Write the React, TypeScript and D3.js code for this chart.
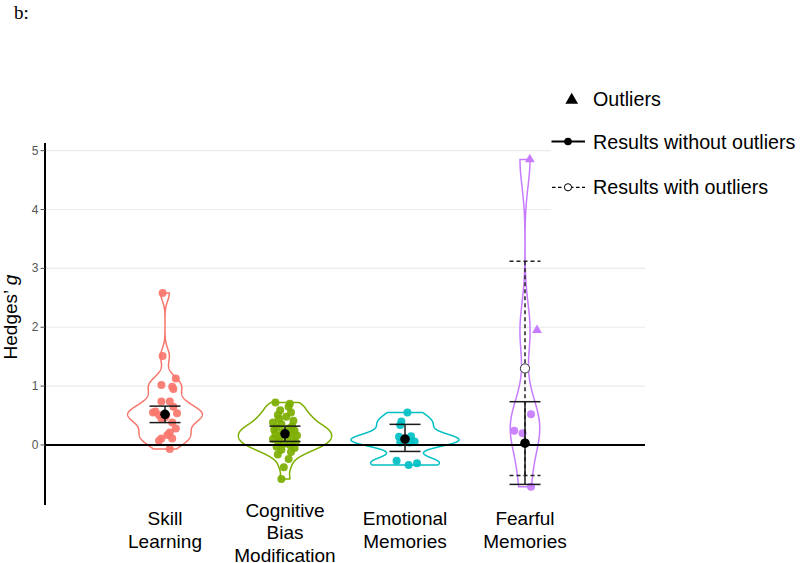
import React from "react";
import * as d3 from "d3";

const categories = ["Skill Learning", "Cognitive Bias Modification", "Emotional Memories", "Fearful Memories"];
const categoryLabelLines = [["Skill", "Learning"], ["Cognitive", "Bias", "Modification"], ["Emotional", "Memories"], ["Fearful", "Memories"]];
const groupColors = ["#F8766D", "#7CAE00", "#00BFC4", "#C77CFF"];

const skillValues = [2.58, 1.51, 1.13, 1.02, 0.99, 0.95, 0.74, 0.74, 0.65, 0.57, 0.55, 0.54, 0.51, 0.5, 0.47, 0.45, 0.38, 0.28, 0.21, 0.17, 0.11, 0.07, 0.11, -0.07];
const skillJitter = [-0.02, -0.02, 0.09, -0.03, 0.06, 0.07, -0.03, 0.04, 0.07, -0.08, -0.1, 0.1, -0.05, 0.01, 0.0, -0.03, 0.06, 0.09, 0.04, 0.02, -0.03, -0.05, 0.06, 0.04];

const cbmValues = [0.72, 0.7, 0.65, 0.59, 0.55, 0.51, 0.48, 0.44, 0.41, 0.38, 0.35, 0.32, 0.3, 0.28, 0.26, 0.24, 0.22, 0.2, 0.18, 0.16, 0.14, 0.12, 0.1, 0.08, 0.06, 0.04, 0.02, 0.0, -0.03, -0.05, -0.08, -0.12, -0.16, -0.24, -0.38, -0.58];
const cbmJitter = [-0.08, 0.04, 0.03, -0.04, 0.05, -0.06, 0.01, -0.05, 0.07, -0.1, -0.03, 0.06, -0.07, 0.03, -0.09, 0.08, -0.02, 0.05, -0.08, 0.1, -0.04, 0.02, -0.1, 0.07, -0.05, 0.09, -0.01, 0.04, -0.07, 0.08, -0.03, 0.05, -0.06, 0.03, -0.01, -0.03];

const emoValues = [0.55, 0.4, 0.34, 0.15, 0.14, 0.06, 0.04, 0.04, -0.27, -0.31, -0.34];
const emoJitter = [0.02, -0.03, -0.04, 0.05, -0.05, 0.08, 0.04, -0.04, -0.07, 0.1, 0.03];

const fearValues = [4.85, 1.95, 0.52, 0.24, 0.2, -0.71];
const fearJitter = [0.04, 0.1, 0.05, -0.09, -0.02, 0.05];
const fearOutlier = [true, true, false, false, false, false];

const meanWithout = [0.52, 0.19, 0.1, 0.03];
const lowWithout = [0.38, 0.06, -0.11, -0.67];
const highWithout = [0.66, 0.32, 0.35, 0.735];

const fearMeanWith = 1.3;
const fearLowWith = -0.52;
const fearHighWith = 3.12;

const yTicks = [0, 1, 2, 3, 4, 5];
const legendLabels = ["Outliers", "Results without outliers", "Results with outliers"];

const FONT = "'Liberation Sans', Arial, Helvetica, sans-serif";
const BW_ADJUST = 0.7;

function kde(values: number[]) {
  const s = values.slice().sort(d3.ascending);
  const n = s.length;
  const sd = d3.deviation(s) as number;
  const iqr = (d3.quantileSorted(s, 0.75) as number) - (d3.quantileSorted(s, 0.25) as number);
  let lo = Math.min(sd, iqr / 1.34);
  if (!(lo > 0)) lo = sd || 1;
  const bw = 0.9 * lo * Math.pow(n, -0.2) * BW_ADJUST;
  const min = s[0];
  const max = s[n - 1];
  return d3.range(512).map((i) => {
    const t = min + ((max - min) * i) / 511;
    const d = d3.sum(s, (v) => Math.exp(-0.5 * ((t - v) / bw) ** 2)) / (n * bw * Math.sqrt(2 * Math.PI));
    return { t, d };
  });
}

export default function App() {
  const x = d3.scalePoint<string>().domain(categories).range([45, 645]).padding(1);
  const y = d3.scaleLinear().domain([-1.02, 5.13]).range([505, 143]);
  const step = x.step();

  const groups = [
    { values: skillValues, jitter: skillJitter, outlier: skillValues.map(() => false) },
    { values: cbmValues, jitter: cbmJitter, outlier: cbmValues.map(() => false) },
    { values: emoValues, jitter: emoJitter, outlier: emoValues.map(() => false) },
    { values: fearValues, jitter: fearJitter, outlier: fearOutlier },
  ];
  const dens = groups.map((g) => kde(g.values));
  const maxD = d3.max(dens.flat(), (p) => p.d) as number;
  const halfW = 0.45 * step;

  const triangle = d3.symbol().type(d3.symbolTriangle);

  const capW = 15.5;
  const fc = x(categories[3]) as number;

  return (
    <svg width={800} height={563} style={{ position: "absolute", left: 0, top: 0, display: "block", background: "#fff" }}>
      <text x={14} y={19} fontFamily="'Liberation Serif', 'Times New Roman', serif" fontSize={19} fill="#000">b:</text>

      {/* grid */}
      {yTicks.map((t) => (
        <line key={"g" + t} x1={45} x2={645} y1={y(t)} y2={y(t)} stroke="#ebebeb" strokeWidth={1.1} />
      ))}

      {/* legend background */}
      <rect x={551} y={70} width={249} height={160} fill="#fff" />

      {/* violins */}
      {dens.map((pts, i) => {
        const cx = x(categories[i]) as number;
        const area = d3
          .area<{ t: number; d: number }>()
          .y((p) => y(p.t))
          .x0((p) => cx - (p.d / maxD) * halfW)
          .x1((p) => cx + (p.d / maxD) * halfW)
          .curve(d3.curveLinear);
        return <path key={"v" + i} d={area(pts) as string} fill="none" stroke={groupColors[i]} strokeWidth={1.5} />;
      })}

      {/* points */}
      {groups.map((g, i) => {
        const cx = x(categories[i]) as number;
        return g.values.map((v, j) =>
          g.outlier[j] ? (
            <path
              key={"p" + i + "-" + j}
              d={triangle.size(42)() as string}
              transform={`translate(${cx + g.jitter[j] * step},${y(v)})`}
              fill={groupColors[i]}
            />
          ) : (
            <circle key={"p" + i + "-" + j} cx={cx + g.jitter[j] * step} cy={y(v)} r={4} fill={groupColors[i]} opacity={0.92} />
          )
        );
      })}

      {/* zero line */}
      <line x1={45} x2={645} y1={y(0)} y2={y(0)} stroke="#000" strokeWidth={2} />

      {/* y axis */}
      <line x1={45} x2={45} y1={143} y2={505} stroke="#000" strokeWidth={2} />
      {yTicks.map((t) => (
        <g key={"t" + t}>
          <line x1={40.5} x2={45} y1={y(t)} y2={y(t)} stroke="#555" strokeWidth={1} />
          <text x={38.5} y={y(t) + 4} textAnchor="end" fontFamily={FONT} fontSize={12} fill="#555">
            {t}
          </text>
        </g>
      ))}
      <text transform={`translate(17,317) rotate(-90)`} textAnchor="middle" fontFamily={FONT} fontSize={19} fill="#000">
        Hedges’ <tspan fontStyle="italic">g</tspan>
      </text>

      {/* dashed error bar with outliers */}
      <g stroke="#222" strokeWidth={1.5} strokeDasharray="4,3" fill="none">
        <line x1={fc} x2={fc} y1={y(fearHighWith)} y2={y(fearLowWith)} />
        <line x1={fc - capW} x2={fc + capW} y1={y(fearHighWith)} y2={y(fearHighWith)} />
        <line x1={fc - capW} x2={fc + capW} y1={y(fearLowWith)} y2={y(fearLowWith)} />
      </g>

      {/* error bars without outliers */}
      {categories.map((c, i) => {
        const cx = x(c) as number;
        return (
          <g key={"e" + i} stroke="#1a1a1a" strokeWidth={1.5}>
            <line x1={cx} x2={cx} y1={y(highWithout[i])} y2={y(lowWithout[i])} />
            <line x1={cx - capW} x2={cx + capW} y1={y(highWithout[i])} y2={y(highWithout[i])} />
            <line x1={cx - capW} x2={cx + capW} y1={y(lowWithout[i])} y2={y(lowWithout[i])} />
          </g>
        );
      })}
      <circle cx={fc} cy={y(fearMeanWith)} r={4.6} fill="#fff" stroke="#333" strokeWidth={1} />
      {categories.map((c, i) => (
        <circle key={"m" + i} cx={x(c) as number} cy={y(meanWithout[i])} r={4.8} fill="#000" />
      ))}

      {/* x labels */}
      {categoryLabelLines.map((lines, i) => {
        const cx = x(categories[i]) as number;
        const first = lines.length === 3 ? 516.5 : 525;
        return (
          <text key={"xl" + i} textAnchor="middle" fontFamily={FONT} fontSize={19} fill="#000">
            {lines.map((l, k) => (
              <tspan key={k} x={cx} y={first + k * 22.5}>
                {l}
              </tspan>
            ))}
          </text>
        );
      })}

      {/* legend */}
      <path d={triangle.size(70)() as string} transform="translate(571.7,100)" fill="#000" />
      <text x={593} y={106} fontFamily={FONT} fontSize={19.7} fill="#000">{legendLabels[0]}</text>

      <line x1={551.5} x2={585} y1={141.5} y2={141.5} stroke="#000" strokeWidth={2} />
      <circle cx={568} cy={141.5} r={3.8} fill="#000" />
      <text x={593} y={148.5} fontFamily={FONT} fontSize={19.7} fill="#000">{legendLabels[1]}</text>

      <line x1={552} x2={585} y1={187.3} y2={187.3} stroke="#000" strokeWidth={1.3} strokeDasharray="3.5,2.5" />
      <circle cx={568} cy={187.3} r={3.6} fill="#fff" stroke="#000" strokeWidth={1} />
      <text x={593} y={194.3} fontFamily={FONT} fontSize={19.7} fill="#000">{legendLabels[2]}</text>
    </svg>
  );
}
